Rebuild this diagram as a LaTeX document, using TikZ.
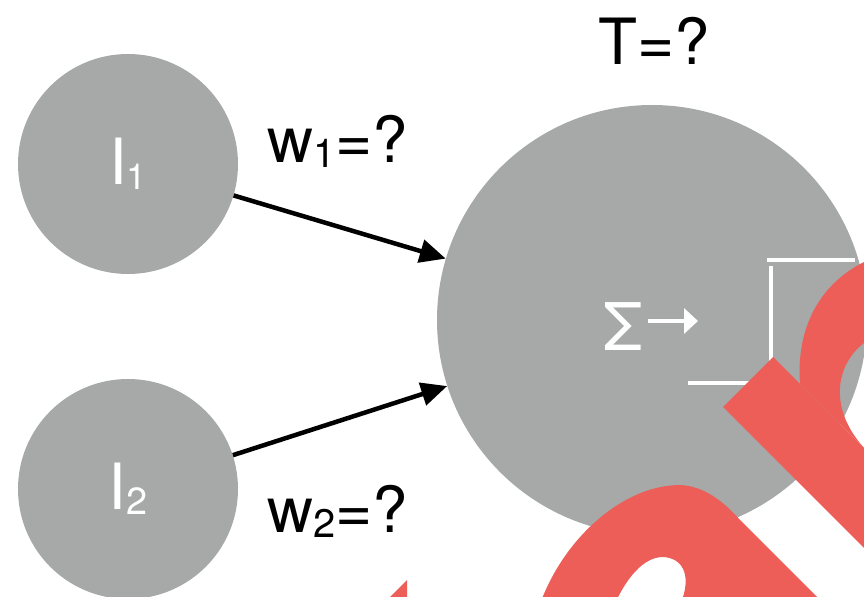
\documentclass[tikz,border=0pt]{standalone}
\usepackage{fontspec}
\setmainfont{TeX Gyre Heros}
\usetikzlibrary{arrows.meta}
\definecolor{neurongray}{RGB}{166,169,168}
\definecolor{markred}{RGB}{236,94,87}
\newcommand{\subidx}[2][40]{\raisebox{-5bp}{\fontsize{#1}{#1}\selectfont #2}}
\begin{document}
\begin{tikzpicture}[x=1bp,y=-1bp,
  neuron/.style={circle,fill=neurongray,inner sep=0pt,text=white,font=\fontsize{64}{70}\selectfont},
  weight/.style={font=\fontsize{64}{70}\selectfont,inner sep=0pt,anchor=base},
  link/.style={line width=4.5bp,-{Triangle[length=26bp,width=23bp]}},
  stepline/.style={white,line width=4.5bp}]
\useasboundingbox (0,0) rectangle (864,597);
% neurons
\node[neuron,minimum size=220bp] (in1) at (128,164) {I\subidx[36]{1}};
\node[neuron,minimum size=220bp] (in2) at (128,489) {I\subidx[38]{2}};
\node[neuron,minimum size=430bp] (sum) at (652,320) {};
\draw[link] (in1) -- (sum);
\draw[link] (in2) -- (sum);
% labels
\node[weight] (w1) at (338,163) {w\subidx{1}=?};
\node[weight] (w2) at (338,532) {w\subidx{2}=?};
\node[weight] (thr) at (654,65) {T=?};
% sum and step
\node[weight,text=white,font=\fontsize{66}{70}\selectfont] (sig) at (623,350) {Σ};
\coordinate (sigtail) at (648,321);
\coordinate (sigtip) at (698,321);
\draw[white,line width=4bp,-{Triangle[length=14bp,width=25bp]}] (sigtail) -- (sigtip);
\draw[stepline] (688,383) -- (771,383);
\draw[stepline] (771,266) -- (771,383);
\draw[stepline] (767,260) -- (855,260);
% red marks
\begin{scope}
\clip (0,0) rectangle (864,597);
\fill[markred] (723,407) -- (773,357) -- (1000,584) -- (950,634) -- cycle;
\fill[markred] (800,384) .. controls (796,330) and (818,285) .. (864,262)
  -- (890,250) -- (890,340) -- (864,343) .. controls (835,365) and (828,410) .. (866,450) -- cycle;
\fill[markred] (535,620) .. controls (555,545) and (620,485) .. (680,485)
  .. controls (705,486) and (725,503) .. (740,520) -- (840,620) -- (682,620) -- (683,597)
  .. controls (690,575) and (683,558) .. (663,557) .. controls (645,557) and (625,575) .. (608,620) -- cycle;
\fill[markred] (407,580) -- (384,603) -- (407,603) -- cycle;
\end{scope}
\end{tikzpicture}
\end{document}
